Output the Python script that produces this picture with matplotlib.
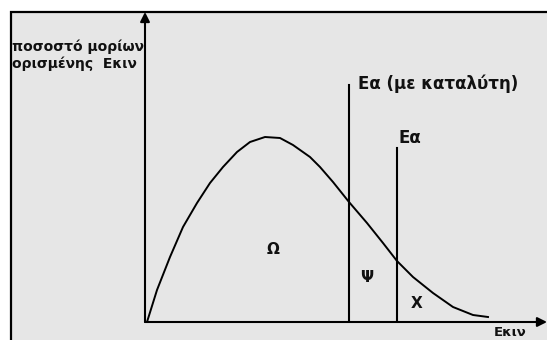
import numpy as np
import matplotlib.pyplot as plt
from matplotlib.patches import Rectangle

# curve: kinetic energy (arbitrary units) vs fraction of molecules
energy = [0, 10, 23, 36, 50, 63, 76, 90, 103, 118, 133, 146, 163, 173,
          186, 202, 220, 236, 250, 266, 286, 306, 326, 341]
fraction = [0, 32, 65, 95, 119, 139, 155, 170, 180, 185, 184, 177, 165, 155,
            140, 120, 99, 79, 61, 45, 29, 15, 7, 5]

ea_cat = 202      # Ea with catalyst
ea = 250          # Ea without catalyst
ea_cat_top = 237
ea_top = 174

fig = plt.figure(figsize=(5.47, 3.40), dpi=100)
fig.patch.set_facecolor('white')

# grey framed panel
box = Rectangle((10.5/547, -0.1), 1.0, (340-11.5)/340 + 0.1, transform=fig.transFigure,
                facecolor='#e6e6e6', edgecolor='black', linewidth=1.6, zorder=-5)
fig.patches.append(box)

ax = fig.add_axes([145/547, (340-322)/340, (547-145)/547, (322-0)/340])
ax.set_zorder(2)
ax.set_xlim(-2, 400)
ax.set_ylim(0, 322)
ax.axis('off')

# axes arrows
ax.annotate('', xy=(-2, 310), xytext=(-2, 0),
            arrowprops=dict(arrowstyle='-|>', color='black', lw=1.5, mutation_scale=14,
                            shrinkA=0, shrinkB=0))
ax.annotate('', xy=(400, 0), xytext=(-2, 0),
            arrowprops=dict(arrowstyle='-|>', color='black', lw=1.5, mutation_scale=14,
                            shrinkA=0, shrinkB=0), annotation_clip=False)

ax.plot(energy, fraction, color='black', lw=1.4, solid_joinstyle='round')

ax.plot([ea_cat, ea_cat], [0, ea_cat_top], color='black', lw=1.5)
ax.plot([ea, ea], [0, ea_top], color='black', lw=1.5)

bold = dict(fontweight='bold', color='#111111')
ax.text(ea_cat + 9, ea_cat_top + 1, 'Εα (με καταλύτη)', fontsize=12, va='center', ha='left', **bold)
ax.text(ea + 1, ea_top + 10, 'Εα', fontsize=12, va='center', ha='left', **bold)
ax.text(126, 72, 'Ω', fontsize=11, ha='center', va='center', **bold)
ax.text(220, 45, 'Ψ', fontsize=11, ha='center', va='center', **bold)
ax.text(270, 18, 'Χ', fontsize=11, ha='center', va='center', **bold)
ax.text(363, -11, 'Εκιν', fontsize=9.5, ha='center', va='center', clip_on=False, **bold)

fig.text(12/547, 1 - 40/340, 'ποσοστό μορίων\nορισμένης  Εκιν', fontsize=10, ha='left', va='top',
         linespacing=1.2, **bold)

fig.savefig('out.png', dpi=100)
